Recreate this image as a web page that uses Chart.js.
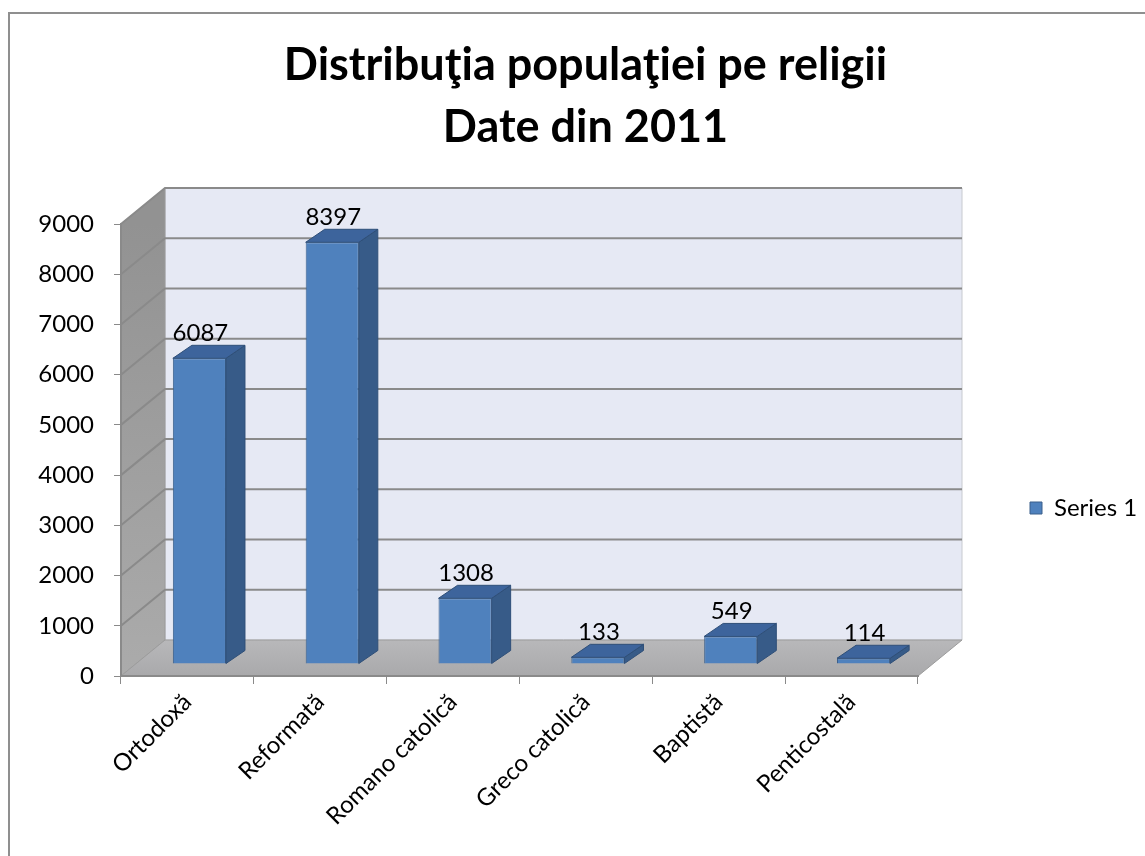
<!DOCTYPE html>
<html>
<head>
<meta charset="utf-8">
<script src="https://cdn.jsdelivr.net/npm/chart.js@4.4.1/dist/chart.umd.min.js"></script>
<style>
  html, body { margin: 0; padding: 0; background: #fff; }
</style>
</head>
<body>
<canvas id="religii" width="1145" height="856"></canvas>
<script>
// date recensamant 2011
const religii = ['Ortodoxă', 'Reformată', 'Romano catolică', 'Greco catolică', 'Baptistă', 'Penticostală'];
const populatie = [6087, 8397, 1308, 133, 549, 114];
const titlu = ['Distribuţia populaţiei pe religii', 'Date din 2011'];
const numeSerie = 'Series 1';
const yMax = 9000;
const yPas = 1000;

// adancimea peretilor / podelei si a barelor (efect 3D)
const PERETE = { dx: 44, dy: -36 };
const BARA = { dx: 19, dy: -13 };
const DEPL = { dx: 12, dy: -12 };
const DREAPTA_GRAFIC = 918;   // marginea dreapta a zonei de desen
const LEGENDA_X = 1020;
const LEGENDA_Y = 508;

const font = 'Lato';

function poligon(ctx, pts, fill, stroke) {
    ctx.beginPath();
    ctx.moveTo(pts[0][0], pts[0][1]);
    for (let i = 1; i < pts.length; i++) ctx.lineTo(pts[i][0], pts[i][1]);
    ctx.closePath();
    if (fill) { ctx.fillStyle = fill; ctx.fill(); }
    if (stroke) { ctx.strokeStyle = stroke; ctx.lineWidth = 1; ctx.stroke(); }
}

const cadru3d = {
    id: 'cadru3d',
    afterLayout(chart) {
        // legenda mutata unde e in original
        const lg = chart.legend;
        const sh = LEGENDA_Y - (lg.top + lg.bottom) / 2;
        lg.top += sh;
        lg.bottom += sh;
        lg.left = LEGENDA_X;
        lg.right = LEGENDA_X + lg.width;
    },
    beforeDraw(chart) {
        const ctx = chart.ctx;
        const { left, right, top, bottom } = chart.chartArea;
        const y = chart.scales.y;
        const dx = PERETE.dx, dy = PERETE.dy;
        ctx.save();
        ctx.fillStyle = '#fff';
        ctx.fillRect(0, 0, chart.width, chart.height);
        ctx.strokeStyle = '#8f8f8f';
        ctx.lineWidth = 2;
        ctx.strokeRect(9, 13, chart.width + 10, chart.height + 10);

        // perete spate
        poligon(ctx, [[left + dx, top + dy], [right + dx, top + dy], [right + dx, bottom + dy], [left + dx, bottom + dy]], '#e6e9f4', '#c8cad0');
        // perete lateral
        const gs = ctx.createLinearGradient(0, top, 0, bottom);
        gs.addColorStop(0, '#929292');
        gs.addColorStop(1, '#ababab');
        poligon(ctx, [[left, top], [left + dx, top + dy], [left + dx, bottom + dy], [left, bottom]], gs, '#9a9a9a');
        // podea
        const gp = ctx.createLinearGradient(0, bottom + dy, 0, bottom);
        gp.addColorStop(0, '#b8b8ba');
        gp.addColorStop(1, '#a9a9ab');
        poligon(ctx, [[left, bottom], [left + dx, bottom + dy], [right + dx, bottom + dy], [right, bottom]], gp, '#9c9c9c');

        // linii de grila
        ctx.strokeStyle = '#8a8a8a';
        ctx.lineWidth = 2;
        y.ticks.forEach(t => {
            if (t.value === 0) return;
            const py = y.getPixelForValue(t.value);
            ctx.beginPath();
            ctx.moveTo(left, py);
            ctx.lineTo(left + dx, py + dy);
            ctx.lineTo(right + dx, py + dy);
            ctx.stroke();
        });
        ctx.restore();
    },
    beforeDatasetsDraw(chart) {
        chart.ctx.save();
        chart.ctx.translate(DEPL.dx, DEPL.dy);
    },
    afterDatasetsDraw(chart) {
        const ctx = chart.ctx;
        const meta = chart.getDatasetMeta(0);
        meta.data.forEach(bar => {
            const half = bar.width / 2;
            const r = bar.x + half, l = bar.x - half;
            poligon(ctx, [[r, bar.y], [r + BARA.dx, bar.y + BARA.dy], [r + BARA.dx, bar.base + BARA.dy], [r, bar.base]], '#375b88', '#2f4f78');
            poligon(ctx, [[l, bar.y], [l + BARA.dx, bar.y + BARA.dy], [r + BARA.dx, bar.y + BARA.dy], [r, bar.y]], '#3d649c', '#2f4f78');
        });
        ctx.restore();

        // etichete valori
        ctx.save();
        ctx.fillStyle = '#000';
        ctx.font = '24px ' + font;
        ctx.textAlign = 'center';
        ctx.textBaseline = 'alphabetic';
        meta.data.forEach((bar, i) => {
            ctx.fillText(String(populatie[i]), bar.x + DEPL.dx + 1, bar.y + DEPL.dy + BARA.dy - 4);
        });
        ctx.restore();
    }
};

const graficReligii = new Chart('religii', {
    type: 'bar',
    data: {
        labels: religii,
        datasets: [{
            label: numeSerie,
            data: populatie,
            backgroundColor: '#4f81bd',
            borderColor: '#3a5f8b',
            borderWidth: 1,
            categoryPercentage: 1,
            barPercentage: 0.4
        }]
    },
    options: {
        responsive: false,
        animation: false,
        layout: {
            padding: { left: 26, right: 0, top: 0, bottom: 0 }
        },
        plugins: {
            title: {
                display: true,
                text: titlu,
                color: '#000',
                font: { family: font, size: 45, weight: 'bold', lineHeight: '62px' },
                padding: { top: 34, bottom: 66 }
            },
            legend: {
                display: true,
                position: 'right',
                labels: {
                    boxWidth: 12,
                    boxHeight: 12,
                    color: '#000',
                    textAlign: 'left',
                    font: { family: font, size: 24 }
                }
            },
            tooltip: { enabled: false }
        },
        scales: {
            x: {
                grid: { drawOnChartArea: false, drawTicks: true, tickLength: 8, color: '#8a8a8a', offset: true },
                border: { color: '#8a8a8a', width: 2 },
                ticks: {
                    color: '#000',
                    font: { family: font, size: 24 },
                    minRotation: 45,
                    maxRotation: 45,
                    autoSkip: false,
                    padding: 4
                },
                afterFit(s) { s.height = 180; }
            },
            y: {
                min: 0,
                max: yMax,
                grid: { drawOnChartArea: false, drawTicks: true, tickLength: 7, color: '#8a8a8a' },
                border: { color: '#8a8a8a', width: 2 },
                ticks: {
                    stepSize: yPas,
                    color: '#000',
                    font: { family: font, size: 24 },
                    padding: 20,
                    callback: v => String(v)
                },
                afterFit(s) { s.width = 95; }
            },
            spatiu: {
                // doar spatiu intre grafic si legenda
                type: 'linear',
                position: 'right',
                display: true,
                grid: { display: false },
                border: { display: false },
                ticks: { display: false },
                afterFit(s) { s.width = s.chart.width - s.chart.legend.width - DREAPTA_GRAFIC; }
            }
        }
    },
    plugins: [cadru3d]
});
</script>
</body>
</html>
